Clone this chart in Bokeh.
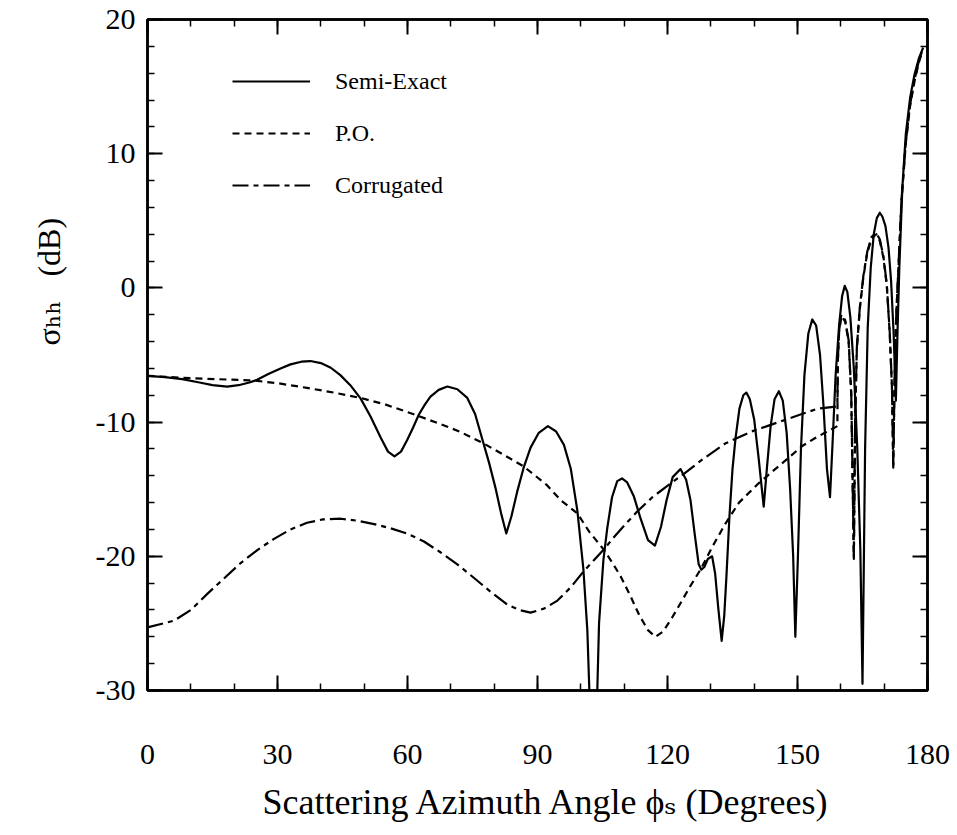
from bokeh.plotting import figure
from bokeh.models import (LinearAxis, SingleIntervalTicker, Range1d, Legend,
                          LegendItem, Title, CustomJSTickFormatter)
from bokeh.embed import file_html
from bokeh.resources import INLINE

# ---------------- data ----------------
semi_x = [0, 4, 8, 12, 15, 18.4, 21, 23.5, 25.3, 28, 30.7, 33, 35.5, 37.6, 40,
          42.3, 44.5, 46.8, 49.2, 51.5, 53.8, 55.5, 57.0, 58.5, 59.9, 61.3, 62.6,
          64, 65.3, 67.2, 69.2, 71.5, 73.8, 75.6, 77.2, 78.8, 80.3, 81.6, 82.8,
          84.0, 85.3, 86.8, 88.4, 90.3, 92.4, 94.3, 96.1, 97.7, 99.2, 100.6,
          101.5, 103.0, 104.2, 105.2, 106.1, 107.2, 108.4, 109.5, 110.7, 112.2,
          113.8, 115.5, 117.1, 118.5, 119.8, 121.2, 123.0, 124.3, 125.3, 126.3,
          127.2, 127.8, 128.5, 129.3, 130.3, 131.0, 131.7, 132.5, 133.1, 133.6,
          134.3, 135.0, 135.7, 136.6, 137.5, 138.2, 139.0, 140.0, 141.0, 142.2,
          143.0, 143.8, 144.7, 145.7, 146.6, 147.5, 148.3, 149.0, 149.5, 150.1,
          150.8, 151.6, 152.5, 153.4, 154.3, 155.2, 156.0, 156.8, 157.5, 158.1,
          158.8, 159.6, 160.3, 160.9, 161.5, 162.2, 163.0, 163.8, 164.5, 165.0,
          165.6, 166.2, 166.9, 167.6, 168.3, 169.0, 169.6, 170.3, 171.0, 171.6,
          172.2, 172.7, 173.1, 173.5, 174.2, 175.0, 176.0, 177.0, 178.0, 179.0]
semi_y = [-6.55, -6.65, -6.8, -7.05, -7.25, -7.35, -7.25, -7.05, -6.85, -6.4,
          -6.0, -5.7, -5.5, -5.45, -5.6, -5.95, -6.5, -7.25, -8.25, -9.6,
          -11.15, -12.2, -12.55, -12.2, -11.35, -10.4, -9.45, -8.7, -8.1, -7.6,
          -7.35, -7.55, -8.2, -9.4, -11.2, -13.0, -14.9, -16.8, -18.3, -17.0,
          -15.2, -13.4, -11.9, -10.8, -10.3, -10.7, -11.7, -13.5, -16.6, -21.0,
          -25.5, -40.0, -25.0, -20.3, -17.9, -15.6, -14.4, -14.2, -14.5, -15.5,
          -17.2, -18.8, -19.2, -17.8, -15.8, -14.1, -13.5, -14.3, -15.8, -18.4,
          -20.6, -21.0, -20.8, -20.2, -20.0, -21.3, -23.8, -26.3, -24.4, -21.5,
          -17.0, -13.5, -11.2, -9.0, -8.0, -7.8, -8.3, -9.8, -12.6, -16.3,
          -13.2, -10.3, -8.3, -7.7, -8.4, -10.8, -15.0, -20.0, -26.0, -20.0,
          -12.0, -6.5, -3.4, -2.35, -2.8, -5.0, -8.8, -13.5, -15.6, -11.5,
          -6.5, -2.8, -0.6, 0.15, -0.3, -2.2, -6.0, -12.0, -19.5, -29.5,
          -12.0, -3.0, 1.5, 4.0, 5.2, 5.6, 5.3, 4.6, 3.0, 0.5,
          -3.5, -8.4, -3.0, 1.5, 7.5, 11.5, 14.2, 15.9, 17.1, 17.9]

po_x = [0, 8, 16, 24.5, 30, 36.8, 43, 49.2, 55, 62.2, 68, 72, 77.6, 82, 86.8,
        92.2, 95.3, 99.2, 102, 105.3, 107.5, 109.2, 111.5, 113.5, 115.5, 117.2,
        119, 121, 123, 125.3, 127.6, 130.5, 133.3, 136.5, 140.9, 144.5, 147.8,
        151, 154, 156.3, 159.2, 159.3, 159.6, 160.1, 161.0, 161.8, 162.4, 163.0,
        163.3, 163.7, 164.4, 165.2, 166.1, 167.1, 168.2, 169.0, 169.8, 170.6,
        171.3, 171.8, 172.1, 172.4, 172.8, 173.3, 174.0, 175.0, 176.0, 177.0,
        178.0, 178.8]
po_y = [-6.55, -6.7, -6.8, -6.9, -7.1, -7.45, -7.8, -8.2, -8.7, -9.5, -10.2,
        -10.7, -11.6, -12.4, -13.3, -14.7, -15.8, -16.8, -18.2, -19.5, -20.6,
        -21.5, -23.0, -24.4, -25.5, -26.0, -25.6, -24.6, -23.5, -22.2, -21.0,
        -19.2, -17.6, -16.0, -14.6, -13.6, -12.7, -11.8, -11.2, -10.8, -10.3,
        -5.5, -3.3, -2.1, -2.5, -4.0, -8.0, -20.2, -10.0, -4.5, -1.5, 0.8,
        2.6, 3.7, 4.0, 3.5, 2.3, 0.2, -3.5, -7.5, -13.4, -7.0, -2.0, 1.5,
        6.5, 10.8, 13.6, 15.4, 16.8, 17.6]

cor_x = [0, 6.1, 10, 13.8, 17.5, 21.5, 25.5, 29.2, 33, 36.8, 40.5, 44.6, 48.5,
         52.3, 56, 59.9, 63.8, 67.6, 71.5, 75.3, 79, 83.0, 85.8, 88.4, 91.5,
         94.6, 97.7, 100.7, 103, 105.3, 107.3, 109.2, 112.9, 116.5, 120.2, 124,
         128, 133.3, 139.4, 143, 147.0, 151, 154.7, 158.9, 159.2, 159.3, 159.6,
         160.1, 161.0, 161.8, 162.4, 163.0, 163.3, 163.7, 164.4, 165.2, 166.1,
         167.1, 168.2, 169.0, 169.8, 170.6, 171.3, 171.8, 172.1, 172.4, 172.8,
         173.3, 174.0, 175.0, 176.0, 177.0, 178.0, 178.8]
cor_y = [-25.3, -24.8, -24.0, -22.8, -21.7, -20.5, -19.5, -18.7, -18.0, -17.5,
         -17.25, -17.2, -17.35, -17.6, -17.9, -18.3, -18.9, -19.7, -20.6, -21.6,
         -22.6, -23.6, -24.0, -24.2, -23.9, -23.3, -22.3, -21.1, -20.3, -19.5,
         -18.7, -18.0, -16.7, -15.6, -14.7, -13.8, -12.8, -11.6, -10.7, -10.3,
         -9.85, -9.4, -9.0, -8.85, -8.8, -5.5, -3.2, -2.0, -2.4, -3.9, -7.8,
         -20.0, -9.8, -4.4, -1.4, 0.9, 2.7, 3.8, 4.1, 3.6, 2.4, 0.3, -3.4,
         -7.4, -13.2, -6.9, -1.9, 1.6, 6.6, 10.9, 13.7, 15.5, 16.9, 17.7]

series_names = ["Semi-Exact", "P.O.", "Corrugated"]
x_title = "Scattering Azimuth Angle \u03d5\u209b  (Degrees)"
y_title = "\u03c3\u2095\u2095\u00a0\u00a0\u00a0(dB)"
x_ticks_interval = 30
y_ticks_interval = 10

SERIF = "Liberation Serif, DejaVu Serif, serif"

# ---------------- figure ----------------
p = figure(width=957, height=835, output_backend="svg", toolbar_location=None,
           x_range=Range1d(0, 180), y_range=Range1d(-30, 20),
           min_border_left=147, min_border_right=30, min_border_top=19,
           min_border_bottom=145)
p.grid.visible = False
p.background_fill_color = "white"
p.border_fill_color = "white"
p.outline_line_color = "black"
p.outline_line_width = 2.5

p.add_layout(LinearAxis(), "above")
p.add_layout(LinearAxis(), "right")

for ax in p.xaxis:
    ax.ticker = SingleIntervalTicker(interval=x_ticks_interval, num_minor_ticks=3)
for ax in p.yaxis:
    ax.ticker = SingleIntervalTicker(interval=y_ticks_interval, num_minor_ticks=5)

plain = CustomJSTickFormatter(code="return String(tick);")
for ax in p.axis:
    ax.axis_line_color = "black"
    ax.axis_line_width = 2.5
    ax.major_tick_line_color = "black"
    ax.minor_tick_line_color = "black"
    ax.major_tick_line_width = 2
    ax.minor_tick_line_width = 1.5
    ax.major_tick_in = 15
    ax.major_tick_out = 0
    ax.minor_tick_in = 7
    ax.minor_tick_out = 0
    ax.major_label_text_font = SERIF
    ax.major_label_text_color = "black"
    ax.major_label_text_font_size = "30px"
    ax.formatter = plain

p.below[0].major_label_standoff = 54
p.left[0].major_label_standoff = 12
blank = CustomJSTickFormatter(code="return '';")
for ax in (p.above[0], p.right[0]):
    ax.formatter = blank
    ax.major_label_standoff = 0

# ---------------- curves ----------------
r_semi = p.line(semi_x, semi_y, line_color="black", line_width=2.2,
                line_join="round")
r_po = p.line(po_x, po_y, line_color="black", line_width=2.2,
              line_dash="7 5", line_join="round")
r_cor = p.line(cor_x, cor_y, line_color="black", line_width=2.2,
               line_dash="16 5 5 5", line_join="round")

legend = Legend(items=[LegendItem(label=series_names[0], renderers=[r_semi]),
                       LegendItem(label=series_names[1], renderers=[r_po]),
                       LegendItem(label=series_names[2], renderers=[r_cor])],
                location=(85, 491), glyph_width=78, glyph_height=28,
                label_height=28, label_standoff=25, spacing=24, padding=0,
                margin=0, border_line_color=None, background_fill_alpha=0,
                label_text_font=SERIF, label_text_font_size="24px",
                label_text_color="black")
p.add_layout(legend)

# ---------------- axis titles ----------------
p.add_layout(Title(text=x_title, align="left", offset=115, standoff=27,
                   text_font=SERIF, text_font_size="36px",
                   text_font_style="normal", text_color="black"), "below")
p.add_layout(Title(text=y_title, align="left", offset=345, standoff=52,
                   text_font=SERIF, text_font_size="32px",
                   text_font_style="normal", text_color="black"), "left")

open("out.html", "w").write(file_html(p, INLINE))
